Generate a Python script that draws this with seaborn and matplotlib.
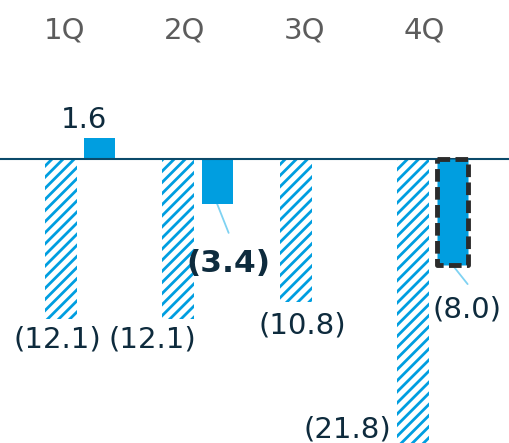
import matplotlib
matplotlib.use("Agg")
import matplotlib.pyplot as plt
import matplotlib.transforms as mtransforms
import seaborn as sns
import pandas as pd
import numpy as np

# ---------------- data ----------------
quarters = ["1Q", "2Q", "3Q", "4Q"]
prev_values = [-12.1, -12.1, -10.8, -21.8]          # hatched bars
curr_values = [1.6, -3.4, None, -8.0]               # solid bars
prev_labels = ["(12.1)", "(12.1)", "(10.8)", "(21.8)"]
curr_labels = ["1.6", "(3.4)", None, "(8.0)"]

# ---------------- style ----------------
BLUE = "#009ee0"
NAVY_TEXT = "#0e2b3d"
GRAY_TEXT = "#5c5c5c"
BASE = "#0b4a6a"
LEADER = "#7fd2f2"
PX_PER_UNIT = 13.2
PX_PER_GROUP = 117.5
BASE_PX = 159.0
FIRST_GROUP_PX = 80.25
W, H = 510, 443

rows = []
for q, v in zip(quarters, prev_values):
    rows.append({"quarter": q, "series": "prev", "value": v})
for q, v in zip(quarters, curr_values):
    if v is not None:
        rows.append({"quarter": q, "series": "curr", "value": v})
df = pd.DataFrame(rows)

sns.set_theme(style="white")
plt.rcParams["font.family"] = ["DejaVu Sans"]
plt.rcParams["hatch.linewidth"] = 2.0

fig = plt.figure(figsize=(W / 100, H / 100), dpi=100)
ax = fig.add_axes([0, 0, 1, 1])

sns.barplot(data=df, x="quarter", y="value", hue="series", order=quarters,
            hue_order=["prev", "curr"], palette=[BLUE, BLUE], dodge=True,
            width=0.66, errorbar=None, legend=False, ax=ax)

x0 = -FIRST_GROUP_PX / PX_PER_GROUP
ax.set_xlim(x0, x0 + W / PX_PER_GROUP)
ax.set_ylim(-(H - BASE_PX) / PX_PER_UNIT, BASE_PX / PX_PER_UNIT)
ax.set_axis_off()

def px2pt(dx, dy):
    return dx * 0.72, -dy * 0.72

# hatched (previous) bars
prev_off = [(-3.5, 21), (-25.5, 21), (6, 24), (-65.5, -17)]
for bar in ax.containers[0]:
    xc = bar.get_x() + bar.get_width() / 2
    i = int(round(xc))
    nw = 32 / PX_PER_GROUP
    bar.set_x(xc - nw / 2)
    bar.set_width(nw)
    bar.set_facecolor("white")
    bar.set_edgecolor(BLUE)
    bar.set_hatch("///")
    bar.set_linewidth(0)
    bar.set_zorder(2)
    yv = prev_values[i]
    ax.annotate(prev_labels[i], xy=(xc, yv), xytext=px2pt(*prev_off[i]),
                textcoords="offset points", ha="center", va="center",
                fontsize=21, color=NAVY_TEXT, annotation_clip=False)

# solid (current) bars
curr_off = {0: (-15.5, -18), 1: (11.5, 60), 3: (14.5, 45)}
leader_off = {1: (11.5, 29), 3: (15.5, 19.5)}
for bar in ax.containers[1]:
    xc = bar.get_x() + bar.get_width() / 2
    i = int(round(xc))
    nw = 31 / PX_PER_GROUP
    bar.set_x(xc - nw / 2)
    bar.set_width(nw)
    bar.set_facecolor(BLUE)
    bar.set_linewidth(0)
    bar.set_zorder(2)
    yv = curr_values[i]
    if i == 3:
        bar.set_edgecolor("#2b2b2b")
        bar.set_linewidth(3.5)
        bar.set_linestyle((0, (2.6, 1.1)))
        bar.set_joinstyle("round")
        bar.set_zorder(4)
    if i in leader_off:
        ax.annotate("", xy=(xc, yv), xytext=px2pt(*leader_off[i]),
                    textcoords="offset points",
                    arrowprops=dict(arrowstyle="-", color=LEADER, lw=1.3,
                                    shrinkA=0, shrinkB=0), zorder=1)
    bold = (i == 1)
    ax.annotate(curr_labels[i], xy=(xc, yv), xytext=px2pt(*curr_off[i]),
                textcoords="offset points", ha="center", va="center",
                fontsize=22.5 if bold else 21,
                fontweight="bold" if bold else "normal",
                color=NAVY_TEXT, annotation_clip=False)

ax.axhline(0, color=BASE, lw=1.5, zorder=3)

# quarter headers
trans = mtransforms.blended_transform_factory(ax.transData, ax.transAxes)
for i, q in enumerate(quarters):
    ax.text(i - 0.13 + 0.02 * i, 1 - 30 / H, q, transform=trans, ha="center",
            va="center", fontsize=21, color=GRAY_TEXT)

fig.savefig("out.png", dpi=100)
